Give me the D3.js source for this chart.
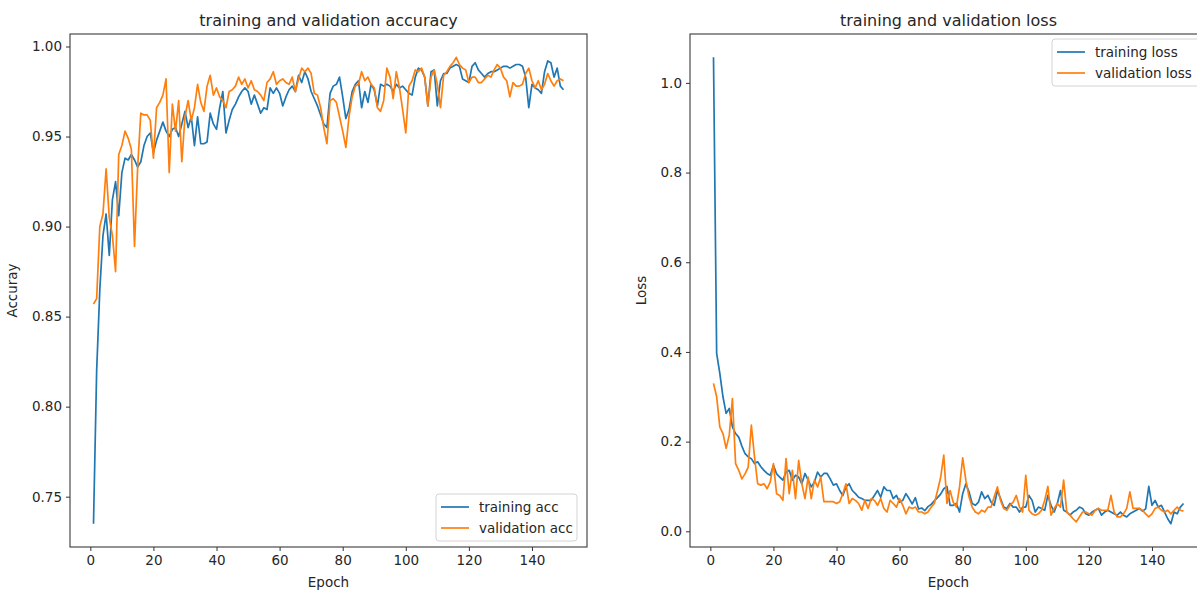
<!DOCTYPE html>
<html>
<head>
<meta charset="utf-8">
<script src="https://cdn.jsdelivr.net/npm/d3@7"></script>
<style>
  body { margin: 0; background: #fff; }
  svg text { font-family: "DejaVu Sans", sans-serif; fill: #262626; }
</style>
</head>
<body>
<svg id="chart"></svg>
<script>
// epochs 1..150
const epochs = d3.range(1, 151);

const train_acc = [
  0.735, 0.820, 0.865, 0.895, 0.907, 0.884, 0.915, 0.925, 0.906, 0.930,
  0.938, 0.937, 0.940, 0.937, 0.933, 0.936, 0.945, 0.950, 0.952, 0.941,
  0.948, 0.953, 0.958, 0.953, 0.950, 0.954, 0.955, 0.950, 0.957, 0.964,
  0.955, 0.961, 0.945, 0.961, 0.946, 0.946, 0.947, 0.963, 0.957, 0.954,
  0.966, 0.975, 0.952, 0.959, 0.965, 0.968, 0.972, 0.975, 0.977, 0.975,
  0.968, 0.973, 0.968, 0.963, 0.966, 0.965, 0.977, 0.974, 0.977, 0.974,
  0.967, 0.972, 0.976, 0.978, 0.975, 0.984, 0.980, 0.986, 0.982, 0.975,
  0.971, 0.967, 0.962, 0.957, 0.955, 0.974, 0.978, 0.979, 0.983, 0.972,
  0.960, 0.965, 0.975, 0.979, 0.981, 0.966, 0.975, 0.969, 0.979, 0.976,
  0.967, 0.979, 0.978, 0.979, 0.978, 0.975, 0.979, 0.977, 0.978, 0.976,
  0.974, 0.973, 0.983, 0.988, 0.987, 0.983, 0.967, 0.986, 0.987, 0.967,
  0.981, 0.985, 0.985, 0.988, 0.989, 0.990, 0.989, 0.982, 0.981, 0.980,
  0.989, 0.991, 0.987, 0.985, 0.983, 0.985, 0.986, 0.986, 0.987, 0.988,
  0.989, 0.989, 0.988, 0.989, 0.990, 0.990, 0.989, 0.983, 0.966, 0.979,
  0.977, 0.976, 0.974, 0.986, 0.992, 0.991, 0.983, 0.988, 0.978, 0.976
];

const val_acc = [
  0.857, 0.860, 0.900, 0.907, 0.932, 0.905, 0.895, 0.875, 0.940, 0.945,
  0.953, 0.949, 0.943, 0.889, 0.933, 0.963, 0.962, 0.962, 0.959, 0.938,
  0.966, 0.969, 0.973, 0.982, 0.930, 0.968, 0.953, 0.970, 0.936, 0.961,
  0.970, 0.959, 0.966, 0.979, 0.969, 0.964, 0.978, 0.984, 0.973, 0.977,
  0.972, 0.970, 0.966, 0.975, 0.976, 0.978, 0.983, 0.979, 0.982, 0.977,
  0.981, 0.976, 0.975, 0.973, 0.970, 0.980, 0.982, 0.986, 0.979, 0.981,
  0.982, 0.980, 0.979, 0.983, 0.975, 0.982, 0.988, 0.986, 0.988, 0.985,
  0.974, 0.973, 0.966, 0.955, 0.946, 0.970, 0.971, 0.969, 0.961, 0.953,
  0.944, 0.961, 0.972, 0.978, 0.979, 0.986, 0.981, 0.983, 0.979, 0.977,
  0.966, 0.964, 0.970, 0.988, 0.983, 0.971, 0.986, 0.977, 0.965, 0.952,
  0.978, 0.981, 0.987, 0.986, 0.988, 0.983, 0.967, 0.983, 0.987, 0.979,
  0.966, 0.984, 0.986, 0.989, 0.991, 0.994, 0.990, 0.988, 0.987, 0.980,
  0.983, 0.983, 0.980, 0.980, 0.982, 0.984, 0.983, 0.987, 0.990, 0.988,
  0.983, 0.981, 0.972, 0.980, 0.978, 0.978, 0.979, 0.985, 0.988, 0.981,
  0.977, 0.981, 0.976, 0.979, 0.985, 0.981, 0.978, 0.981, 0.982, 0.981
];

const train_loss = [
  1.057, 0.397, 0.352, 0.300, 0.263, 0.274, 0.233, 0.218, 0.210, 0.190,
  0.173, 0.166, 0.162, 0.151, 0.155, 0.144, 0.136, 0.129, 0.125, 0.147,
  0.128, 0.121, 0.114, 0.132, 0.136, 0.114, 0.125, 0.121, 0.106, 0.129,
  0.114, 0.099, 0.110, 0.132, 0.121, 0.129, 0.129, 0.117, 0.103, 0.106,
  0.091, 0.080, 0.099, 0.106, 0.091, 0.084, 0.076, 0.073, 0.069, 0.069,
  0.069, 0.080, 0.091, 0.076, 0.099, 0.091, 0.091, 0.073, 0.080, 0.065,
  0.069, 0.084, 0.073, 0.061, 0.075, 0.050, 0.052, 0.046, 0.055, 0.060,
  0.068, 0.075, 0.083, 0.095, 0.100, 0.058, 0.058, 0.062, 0.043, 0.084,
  0.106, 0.088, 0.062, 0.058, 0.065, 0.088, 0.073, 0.080, 0.065, 0.058,
  0.091, 0.073, 0.054, 0.051, 0.062, 0.054, 0.054, 0.043, 0.054, 0.054,
  0.080, 0.069, 0.043, 0.054, 0.051, 0.047, 0.080, 0.058, 0.043, 0.062,
  0.091, 0.047, 0.043, 0.036, 0.043, 0.047, 0.054, 0.051, 0.039, 0.036,
  0.043, 0.047, 0.051, 0.036, 0.043, 0.047, 0.043, 0.039, 0.036, 0.043,
  0.036, 0.032, 0.039, 0.043, 0.047, 0.051, 0.045, 0.050, 0.100, 0.058,
  0.069, 0.054, 0.058, 0.043, 0.028, 0.017, 0.043, 0.039, 0.054, 0.062
];

const val_loss = [
  0.330, 0.300, 0.233, 0.218, 0.185, 0.215, 0.296, 0.151, 0.136, 0.117,
  0.128, 0.143, 0.237, 0.166, 0.106, 0.103, 0.106, 0.095, 0.110, 0.151,
  0.084, 0.080, 0.069, 0.162, 0.084, 0.136, 0.073, 0.158, 0.106, 0.073,
  0.121, 0.073, 0.114, 0.099, 0.121, 0.066, 0.066, 0.066, 0.066, 0.062,
  0.066, 0.084, 0.106, 0.062, 0.073, 0.069, 0.062, 0.047, 0.069, 0.051,
  0.073, 0.069, 0.058, 0.073, 0.051, 0.043, 0.069, 0.062, 0.054, 0.073,
  0.058, 0.039, 0.054, 0.051, 0.054, 0.043, 0.043, 0.039, 0.043, 0.054,
  0.062, 0.090, 0.120, 0.170, 0.062, 0.091, 0.065, 0.054, 0.099, 0.164,
  0.114, 0.077, 0.054, 0.043, 0.039, 0.047, 0.043, 0.054, 0.054, 0.077,
  0.099, 0.069, 0.051, 0.047, 0.058, 0.065, 0.080, 0.054, 0.043, 0.125,
  0.047, 0.039, 0.036, 0.039, 0.047, 0.069, 0.100, 0.036, 0.051, 0.062,
  0.054, 0.114, 0.043, 0.036, 0.028, 0.021, 0.032, 0.043, 0.043, 0.039,
  0.036, 0.047, 0.051, 0.047, 0.047, 0.047, 0.080, 0.043, 0.032, 0.032,
  0.039, 0.051, 0.088, 0.051, 0.051, 0.051, 0.047, 0.039, 0.032, 0.039,
  0.051, 0.054, 0.047, 0.043, 0.047, 0.039, 0.047, 0.054, 0.047, 0.045
];

const x_ticks = [0, 20, 40, 60, 80, 100, 120, 140];
const acc_ticks = [0.75, 0.80, 0.85, 0.90, 0.95, 1.00];
const loss_ticks = [0.0, 0.2, 0.4, 0.6, 0.8, 1.0];

const BLUE = "#1f77b4";
const ORANGE = "#ff7f0e";

function get_svg() {
    return d3.select("#chart")
        .attr("width", 1197)
        .attr("height", 590);
}

// matplotlib-like 5% padding around the data
function padded(lo, hi) {
    const pad = (hi - lo) * 0.05;
    return [lo - pad, hi + pad];
}

function draw_panel(svg, cfg) {
    const g = svg.append("g").attr("transform", `translate(${cfg.left},${cfg.top})`);
    const w = cfg.width, h = cfg.height;

    const x = d3.scaleLinear()
        .domain(padded(d3.min(epochs), d3.max(epochs)))
        .range([0, w]);

    const all = cfg.series.flatMap(s => s.values);
    const y = d3.scaleLinear()
        .domain(padded(d3.min(all), d3.max(all)))
        .range([h, 0]);

    // lines
    const line = d3.line()
        .x((d, i) => x(epochs[i]))
        .y(d => y(d));

    g.append("g").selectAll("path")
        .data(cfg.series)
        .enter().append("path")
        .attr("d", d => line(d.values))
        .attr("fill", "none")
        .attr("stroke", d => d.color)
        .attr("stroke-width", 1.7)
        .attr("stroke-linejoin", "round");

    // axes
    const xAxis = g.append("g")
        .attr("transform", `translate(0,${h})`)
        .call(d3.axisBottom(x).tickValues(x_ticks).tickSize(4).tickSizeOuter(0).tickPadding(4));
    const yAxis = g.append("g")
        .call(d3.axisLeft(y).tickValues(cfg.ticks).tickFormat(d3.format(cfg.fmt))
            .tickSize(4).tickSizeOuter(0).tickPadding(4));

    [xAxis, yAxis].forEach(a => {
        a.select(".domain").remove();
        a.selectAll(".tick line").attr("stroke", "#333").attr("stroke-width", 1);
        a.selectAll(".tick text")
            .attr("font-size", 13.5)
            .attr("font-family", "DejaVu Sans")
            .attr("fill", "#262626");
    });

    // spines
    g.append("rect")
        .attr("x", 0).attr("y", 0)
        .attr("width", w).attr("height", h)
        .attr("fill", "none")
        .attr("stroke", "#3a3a3a")
        .attr("stroke-width", 1.1);

    // title + axis labels
    g.append("text")
        .attr("x", w / 2).attr("y", -8)
        .attr("text-anchor", "middle")
        .attr("font-size", 16)
        .text(cfg.title);

    g.append("text")
        .attr("x", w / 2).attr("y", h + 40)
        .attr("text-anchor", "middle")
        .attr("font-size", 13.5)
        .text("Epoch");

    g.append("text")
        .attr("transform", `translate(${cfg.ylabel_x},${h / 2}) rotate(-90)`)
        .attr("text-anchor", "middle")
        .attr("font-size", 13.5)
        .text(cfg.ylabel);

    // legend
    const lg = g.append("g").attr("transform", `translate(${cfg.legend.x},${cfg.legend.y})`);
    lg.append("rect")
        .attr("width", cfg.legend.w).attr("height", 47)
        .attr("rx", 3)
        .attr("fill", "#fff").attr("fill-opacity", 0.85)
        .attr("stroke", "#d4d4d4");

    const item = lg.selectAll(".item")
        .data(cfg.series)
        .enter().append("g")
        .attr("class", "item")
        .attr("transform", (d, i) => `translate(0,${13 + i * 21})`);
    item.append("line")
        .attr("x1", 5).attr("x2", 33)
        .attr("stroke", d => d.color)
        .attr("stroke-width", 1.7);
    item.append("text")
        .attr("x", 43).attr("y", 5)
        .attr("font-size", 13.5)
        .text(d => d.name);
}

const svg = get_svg();

draw_panel(svg, {
    left: 70, top: 34, width: 517, height: 513,
    series: [
        { name: "training acc", values: train_acc, color: BLUE },
        { name: "validation acc", values: val_acc, color: ORANGE }
    ],
    ticks: acc_ticks, fmt: ".2f",
    title: "training and validation accuracy",
    ylabel: "Accuray", ylabel_x: -53,
    legend: { x: 366, y: 460, w: 141 }
});

draw_panel(svg, {
    left: 690, top: 34, width: 517, height: 513,
    series: [
        { name: "training loss", values: train_loss, color: BLUE },
        { name: "validation loss", values: val_loss, color: ORANGE }
    ],
    ticks: loss_ticks, fmt: ".1f",
    title: "training and validation loss",
    ylabel: "Loss", ylabel_x: -44,
    legend: { x: 362, y: 5, w: 150 }
});
</script>
</body>
</html>
